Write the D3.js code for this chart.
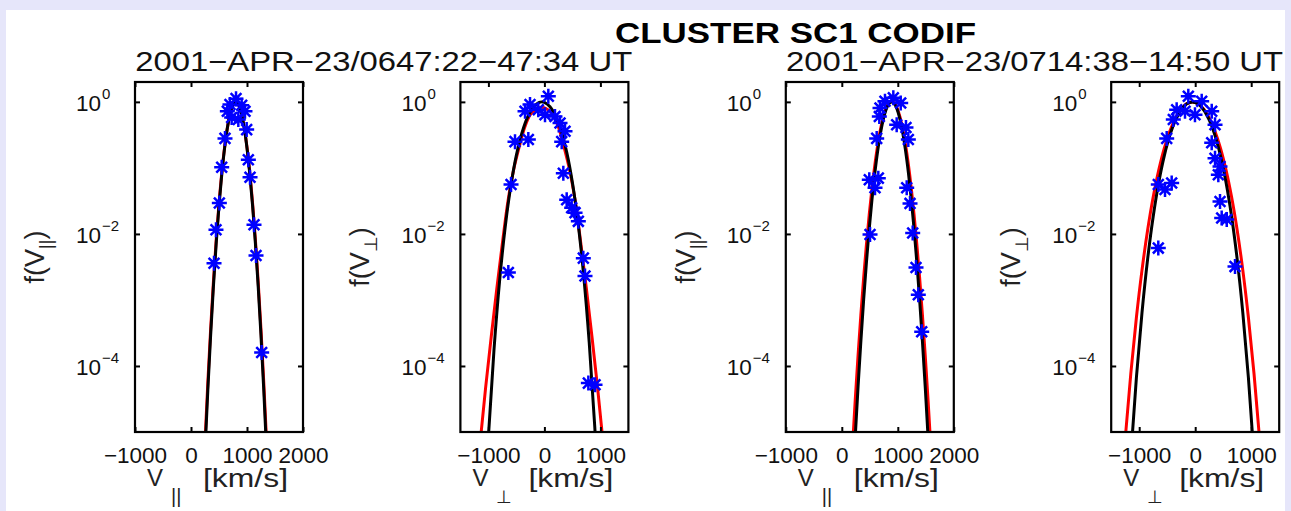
<!DOCTYPE html>
<html>
<head>
<meta charset="utf-8">
<script src="https://cdn.jsdelivr.net/npm/d3@7"></script>
<style>
  html, body { margin: 0; padding: 0; background: #e6e6fa; }
  svg { display: block; }
</style>
</head>
<body>
<svg id="chart" width="1291" height="511"></svg>
<script>
// ---- text ----
const figureTitle = "CLUSTER SC1 CODIF";
const intervalLabels = ["2001\u2212APR\u221223/0647:22\u221247:34 UT", "2001\u2212APR\u221223/0714:38\u221214:50 UT"];
const componentSubscripts = ["||", "\u22A5", "||", "\u22A5"];

// ---- axes ----
const xDomains = [[-1000, 2000], [-1500, 1500], [-1000, 2000], [-1500, 1500]];
const xTickValues = [[-1000, 0, 1000, 2000], [-1000, 0, 1000], [-1000, 0, 1000, 2000], [-1000, 0, 1000]];
const yDomain = [1e-5, 2];
const yTickValues = [1, 1e-2, 1e-4];
const yTickExponents = ["0", "\u22122", "\u22124"];

// ---- measured reduced distributions f(V), [V km/s, f] ----
const obsParA = [[804, 1.12], [696, 0.91], [905, 0.89], [649, 0.72], [964, 0.72], [726, 0.58], [845, 0.54],
  [994, 0.38], [607, 0.28], [1024, 0.133], [548, 0.102], [1054, 0.072], [506, 0.0294], [446, 0.0116],
  [1125, 0.0138], [411, 0.0036], [1161, 0.0047], [1262, 1.6e-4]];
const obsPerpA = [[70, 1.22], [-257, 0.91], [-346, 0.72], [-109, 0.76], [11, 0.64], [189, 0.60], [279, 0.48],
  [368, 0.36], [-525, 0.25], [-287, 0.27], [309, 0.25], [338, 0.083], [-596, 0.056], [398, 0.033],
  [487, 0.025], [547, 0.021], [606, 0.0155], [695, 0.0043], [725, 0.0023], [-644, 0.0026],
  [785, 5.5e-5], [904, 5.2e-5]];
const obsParB = [[920, 1.15], [771, 1.02], [1052, 0.96], [682, 0.81], [670, 0.60], [980, 0.45], [1146, 0.41],
  [623, 0.28], [1188, 0.27], [491, 0.066], [652, 0.07], [593, 0.05], [1159, 0.05], [1218, 0.029],
  [504, 0.0098], [1266, 0.0103], [1325, 0.0031], [1366, 0.0012], [1427, 3.3e-4]];
const obsPerpB = [[-123, 1.22], [116, 1.02], [-331, 0.76], [-182, 0.72], [295, 0.72], [-391, 0.54], [-4, 0.64],
  [354, 0.45], [295, 0.24], [-509, 0.28], [354, 0.14], [443, 0.105], [413, 0.079], [-659, 0.056],
  [-420, 0.059], [-539, 0.047], [443, 0.031], [563, 0.0165], [473, 0.0174], [-659, 0.0061], [711, 0.0032]];

// ---- model fits: black = Maxwellian, red = kappa ----
const maxwellParA = [[200, 5.0e-7], [250, 5.08e-6], [300, 4.22e-5], [350, 2.86e-4], [400, 1.585e-3],
  [450, 7.18e-3], [500, 0.0266], [550, 0.0805], [600, 0.1995], [650, 0.404], [700, 0.668], [750, 0.904],
  [800, 1.0], [850, 0.904], [900, 0.668], [950, 0.404], [1000, 0.1995], [1050, 0.0805], [1100, 0.0266],
  [1150, 7.18e-3], [1200, 1.585e-3], [1250, 2.86e-4], [1300, 4.22e-5], [1350, 5.08e-6], [1400, 5.0e-7]];
const kappaParA = [[200, 7.43e-7], [250, 7.06e-6], [300, 5.51e-5], [350, 3.54e-4], [400, 1.867e-3],
  [450, 8.10e-3], [500, 0.0289], [550, 0.0849], [600, 0.2047], [650, 0.406], [700, 0.662], [750, 0.889],
  [800, 0.98], [850, 0.889], [900, 0.662], [950, 0.406], [1000, 0.2047], [1050, 0.0849], [1100, 0.0289],
  [1150, 8.10e-3], [1200, 1.867e-3], [1250, 3.54e-4], [1300, 5.51e-5], [1350, 7.06e-6], [1400, 7.43e-7]];
const maxwellPerpA = [[-1100, 1.9e-7], [-1000, 8.5e-6], [-900, 1.76e-4], [-800, 1.95e-3], [-700, 0.0127],
  [-600, 0.0532], [-500, 0.156], [-400, 0.341], [-300, 0.586], [-200, 0.826], [-100, 0.976], [-45, 1.0],
  [0, 0.984], [100, 0.846], [200, 0.612], [300, 0.364], [400, 0.171], [500, 0.0601], [600, 0.0149],
  [700, 2.40e-3], [800, 2.30e-4], [900, 1.18e-5], [1000, 2.9e-7]];
const kappaPerpA = [[-1350, 1.04e-7], [-1250, 8.3e-7], [-1150, 6.6e-6], [-1050, 4.67e-5], [-950, 2.75e-4],
  [-850, 1.48e-3], [-750, 7.23e-3], [-650, 0.0316], [-550, 0.0931], [-450, 0.208], [-350, 0.416],
  [-250, 0.644], [-150, 0.774], [-50, 0.830], [50, 0.774], [150, 0.644], [250, 0.416], [350, 0.208],
  [450, 0.0931], [550, 0.0316], [650, 7.23e-3], [750, 1.48e-3], [850, 2.75e-4], [950, 4.67e-5],
  [1050, 6.6e-6], [1150, 8.3e-7], [1250, 1.04e-7]];
const maxwellParB = [[190, 1.32e-6], [240, 8.5e-6], [290, 4.79e-5], [340, 2.34e-4], [390, 1.0e-3],
  [440, 3.72e-3], [490, 0.0120], [540, 0.0339], [590, 0.0832], [640, 0.178], [690, 0.331], [740, 0.537],
  [790, 0.759], [840, 0.933], [890, 1.0], [940, 0.933], [990, 0.759], [1040, 0.537], [1090, 0.331],
  [1140, 0.178], [1190, 0.0832], [1240, 0.0339], [1290, 0.0120], [1340, 3.72e-3], [1390, 1.0e-3],
  [1440, 2.34e-4], [1490, 4.79e-5], [1540, 8.5e-6], [1590, 1.32e-6]];
const kappaParB = [[90, 1.45e-7], [140, 9.8e-7], [190, 5.8e-6], [240, 3.07e-5], [290, 1.43e-4],
  [340, 5.91e-4], [390, 2.16e-3], [440, 6.95e-3], [490, 0.0198], [540, 0.0499], [590, 0.111],
  [640, 0.2187], [690, 0.381], [740, 0.586], [790, 0.797], [840, 0.959], [890, 1.02], [940, 0.959],
  [990, 0.797], [1040, 0.586], [1090, 0.381], [1140, 0.2187], [1190, 0.111], [1240, 0.0499],
  [1290, 0.0198], [1340, 6.95e-3], [1390, 2.16e-3], [1440, 5.91e-4], [1490, 1.43e-4], [1540, 3.07e-5],
  [1590, 5.8e-6], [1640, 9.8e-7], [1690, 1.45e-7]];
const maxwellPerpB = [[-1250, 1.57e-7], [-1150, 4.27e-6], [-1050, 6.67e-5], [-950, 6.45e-4], [-850, 4.12e-3],
  [-750, 0.0184], [-650, 0.0608], [-550, 0.155], [-450, 0.316], [-350, 0.532], [-250, 0.760], [-150, 0.935],
  [-50, 1.0], [50, 0.935], [150, 0.760], [250, 0.532], [350, 0.316], [450, 0.155], [550, 0.0608],
  [650, 0.0184], [750, 4.12e-3], [850, 6.45e-4], [950, 6.67e-5], [1050, 4.27e-6], [1150, 1.57e-7]];
const kappaPerpB = [[-1350, 5.48e-7], [-1250, 7.83e-6], [-1150, 7.69e-5], [-1050, 5.42e-4], [-950, 2.83e-3],
  [-850, 0.01138], [-750, 0.0362], [-650, 0.0935], [-550, 0.2007], [-450, 0.365], [-350, 0.573],
  [-250, 0.783], [-150, 0.941], [-50, 1.0], [50, 0.941], [150, 0.783], [250, 0.573], [350, 0.365],
  [450, 0.2007], [550, 0.0935], [650, 0.0362], [750, 0.01138], [850, 2.83e-3], [950, 5.42e-4],
  [1050, 7.69e-5], [1150, 7.83e-6], [1250, 5.48e-7]];

const panelObs = [obsParA, obsPerpA, obsParB, obsPerpB];
const panelMaxwell = [maxwellParA, maxwellPerpA, maxwellParB, maxwellPerpB];
const panelKappa = [kappaParA, kappaPerpA, kappaParB, kappaPerpB];

// ---- layout ----
const W = 1291, H = 511;
const plotW = 168, plotTop = 82, plotBottom = 432;
const panelLeft = i => 135 + i * 325.4;
const FONT = "'Liberation Sans', Arial, Helvetica, sans-serif";
const TICK_FONT = 22.5;

const svg = d3.select("#chart").style("font-family", FONT);

// figure background with lavender rim
svg.append("rect").attr("width", W).attr("height", H).attr("fill", "#e6e6fa");
svg.append("rect").attr("x", 6).attr("y", 10).attr("width", W - 12).attr("height", H - 10).attr("fill", "#ffffff");

// title
svg.append("text")
  .attr("x", 795.5).attr("y", 43)
  .attr("text-anchor", "middle")
  .attr("font-weight", "bold")
  .attr("font-size", 30)
  .attr("textLength", 361).attr("lengthAdjust", "spacingAndGlyphs")
  .attr("fill", "#000")
  .text(figureTitle);

// interval labels above each pair of panels
intervalLabels.forEach((lab, k) => {
  const x0 = panelLeft(2 * k), x1 = panelLeft(2 * k + 1) + plotW;
  svg.append("text")
    .attr("x", (x0 + x1) / 2 + 2).attr("y", 71)
    .attr("text-anchor", "middle")
    .attr("font-size", 28)
    .attr("textLength", 497).attr("lengthAdjust", "spacingAndGlyphs")
    .attr("fill", "#111")
    .text(lab);
});

const line = (x, y) => d3.line().x(d => x(d[0])).y(d => y(d[1])).curve(d3.curveCatmullRom.alpha(0.5));

function asterisk(r) {
  const d = r * 0.72;
  return `M${-r},0H${r}M0,${-r}V${r}M${-d},${-d}L${d},${d}M${-d},${d}L${d},${-d}`;
}

for (let i = 0; i < 4; i++) {
  const L = panelLeft(i);
  const x = d3.scaleLinear().domain(xDomains[i]).range([L, L + plotW]);
  const y = d3.scaleLog().domain(yDomain).range([plotBottom, plotTop]);
  const g = svg.append("g").attr("class", "panel");

  const clipId = "clip" + i;
  svg.append("clipPath").attr("id", clipId)
    .append("rect").attr("x", L).attr("y", plotTop).attr("width", plotW).attr("height", plotBottom - plotTop);

  const plot = g.append("g").attr("clip-path", `url(#${clipId})`);

  // kappa fit (red) underneath, Maxwellian fit (black) on top
  plot.append("path").datum(panelKappa[i])
    .attr("d", line(x, y)).attr("fill", "none").attr("stroke", "#ff0000").attr("stroke-width", 3);
  plot.append("path").datum(panelMaxwell[i])
    .attr("d", line(x, y)).attr("fill", "none").attr("stroke", "#000000").attr("stroke-width", 3);

  // observations
  plot.selectAll("path.obs").data(panelObs[i]).join("path")
    .attr("class", "obs")
    .attr("transform", d => `translate(${x(d[0])},${y(d[1])})`)
    .attr("d", asterisk(7.5))
    .attr("fill", "none").attr("stroke", "#0000ff").attr("stroke-width", 2.5);

  // axes: inward ticks on all four sides
  const tickLen = 5;
  const axB = g.append("g").attr("transform", `translate(0,${plotBottom})`)
    .call(d3.axisBottom(x).tickValues(xTickValues[i]).tickSizeInner(-tickLen).tickSizeOuter(0).tickPadding(15)
      .tickFormat(d => d < 0 ? "\u2212" + Math.abs(d) : String(d)));
  axB.select(".domain").remove();
  axB.selectAll("line").attr("stroke", "#000").attr("stroke-width", 2);
  axB.selectAll("text").attr("font-size", TICK_FONT).attr("font-family", FONT).attr("fill", "#111");

  const axT = g.append("g").attr("transform", `translate(0,${plotTop})`)
    .call(d3.axisTop(x).tickValues(xTickValues[i]).tickSizeInner(-tickLen).tickSizeOuter(0).tickFormat(""));
  axT.select(".domain").remove();
  axT.selectAll("line").attr("stroke", "#000").attr("stroke-width", 2);

  const axL = g.append("g").attr("transform", `translate(${L},0)`)
    .call(d3.axisLeft(y).tickValues(yTickValues).tickSizeInner(-tickLen).tickSizeOuter(0).tickFormat(""));
  axL.select(".domain").remove();
  axL.selectAll("line").attr("stroke", "#000").attr("stroke-width", 2);

  const axR = g.append("g").attr("transform", `translate(${L + plotW},0)`)
    .call(d3.axisRight(y).tickValues(yTickValues).tickSizeInner(-tickLen).tickSizeOuter(0).tickFormat(""));
  axR.select(".domain").remove();
  axR.selectAll("line").attr("stroke", "#000").attr("stroke-width", 2);

  // y tick labels as powers of ten
  yTickValues.forEach((v, k) => {
    const t = g.append("text").attr("x", L - 59).attr("y", y(v) + 9).attr("fill", "#111").attr("font-size", TICK_FONT);
    t.append("tspan").text("10");
    t.append("tspan").attr("dy", -12).attr("dx", 1).attr("font-size", 15).text(yTickExponents[k]);
  });

  // frame
  g.append("rect").attr("x", L).attr("y", plotTop).attr("width", plotW).attr("height", plotBottom - plotTop)
    .attr("fill", "none").attr("stroke", "#000").attr("stroke-width", 2.2);

  // x label: V_sub [km/s]
  const cx = L + plotW / 2;
  g.append("text").attr("x", cx - 72).attr("y", 486).attr("font-size", 24).attr("fill", "#222").text("V");
  g.append("text").attr("x", cx - 48).attr("y", 503).attr("font-size", i % 2 === 0 ? 20 : 18)
    .attr("fill", "#222").text(componentSubscripts[i]);
  g.append("text").attr("x", cx - 16).attr("y", 487).attr("font-size", 26).attr("fill", "#222")
    .attr("textLength", 85).attr("lengthAdjust", "spacingAndGlyphs").text("[km/s]");

  // y label: f(V_sub)
  const yl = g.append("text")
    .attr("transform", `translate(${L - 91},${(plotTop + plotBottom) / 2}) rotate(-90)`)
    .attr("text-anchor", "middle").attr("font-size", 27).attr("fill", "#222");
  yl.append("tspan").text("f(V");
  yl.append("tspan").attr("dy", 8).attr("font-size", 18).text(componentSubscripts[i]);
  yl.append("tspan").attr("dy", -8).text(")");
}
</script>
</body>
</html>
